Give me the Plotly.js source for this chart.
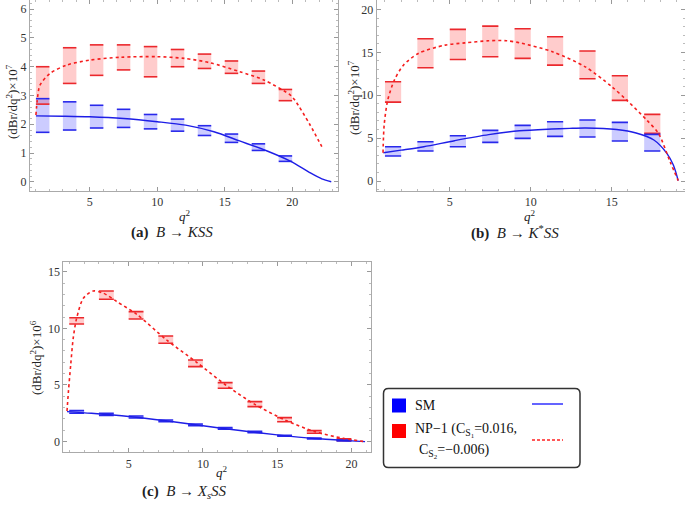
<!DOCTYPE html>
<html>
<head>
<meta charset="utf-8">
<script src="https://cdn.plot.ly/plotly-3.0.1.min.js"></script>
<style>
html, body { margin: 0; padding: 0; background: #fff; }
#plot { width: 685px; height: 511px; }
</style>
</head>
<body>
<div id="plot"></div>
<script>
// bin centres (each bin is one unit wide)
var binsA = [1.5, 3.5, 5.5, 7.5, 9.5, 11.5, 13.5, 15.5, 17.5, 19.5];
var binsB = [1.5, 3.5, 5.5, 7.5, 9.5, 11.5, 13.5, 15.5, 17.5];
var binsC = [1.5, 3.5, 5.5, 7.5, 9.5, 11.5, 13.5, 15.5, 17.5, 19.5];

// (a) B -> K S S   (x10^7)
var smLoA = [1.72, 1.80, 1.87, 1.89, 1.84, 1.76, 1.61, 1.37, 1.09, 0.71];
var smHiA = [2.89, 2.78, 2.66, 2.52, 2.34, 2.18, 1.95, 1.66, 1.32, 0.90];
var npLoA = [2.70, 3.42, 3.70, 3.89, 3.65, 4.00, 3.94, 3.77, 3.42, 2.82];
var npHiA = [4.00, 4.66, 4.76, 4.76, 4.70, 4.60, 4.44, 4.20, 3.85, 3.21];
var qSmA = [1.0, 3.0, 5.0, 7.5, 10.0, 12.1, 14.2, 16.1, 18.1, 19.9, 21.3, 22.2, 22.9];
var ySmA = [2.29, 2.28, 2.26, 2.20, 2.09, 1.97, 1.74, 1.42, 1.08, 0.71, 0.32, 0.10, 0.0];
var qNpA = [1.0, 1.1, 1.3, 2.05, 3.3, 5.0, 7.3, 10.0, 12.0, 13.9, 16.1, 17.9, 19.85, 20.2, 21.3, 22.2];
var yNpA = [2.32, 2.84, 3.36, 3.77, 4.06, 4.23, 4.33, 4.35, 4.29, 4.14, 3.83, 3.54, 3.02, 2.84, 2.0, 1.22];

// (b) B -> K* S S   (x10^7)
var smLoB = [2.91, 3.50, 4.00, 4.50, 4.97, 5.20, 5.13, 4.66, 3.50];
var smHiB = [4.00, 4.58, 5.28, 5.90, 6.49, 6.91, 7.11, 6.83, 5.44];
var npLoB = [9.20, 13.20, 14.17, 14.49, 14.29, 13.51, 11.92, 9.40, 5.55];
var npHiB = [11.57, 16.58, 17.67, 18.06, 17.75, 16.82, 15.15, 12.27, 7.77];
var qSmB = [0.9, 2.0, 3.4, 5.3, 7.4, 9.3, 11.3, 12.4, 13.4, 15.3, 16.5, 17.6, 18.4, 18.8, 19.1];
var ySmB = [3.30, 3.60, 4.00, 4.70, 5.40, 5.85, 6.06, 6.14, 6.18, 6.00, 5.60, 4.78, 3.22, 1.86, 0.05];
var qNpB = [0.88, 0.95, 1.17, 1.58, 2.14, 3.06, 4.71, 5.94, 7.4, 8.5, 9.34, 11.34, 13.37, 15.0, 15.92, 17.16, 17.88, 18.6, 19.1];
var yNpB = [3.3, 6.5, 9.43, 11.76, 13.5, 14.87, 15.84, 16.1, 16.35, 16.35, 16.1, 15.07, 13.3, 11.0, 9.43, 7.1, 5.55, 2.25, 0.05];

// (c) B -> Xs S S   (x10^6)
var smLoC = [2.50, 2.32, 2.09, 1.76, 1.41, 1.09, 0.79, 0.47, 0.24, 0.06];
var smHiC = [2.74, 2.50, 2.26, 1.91, 1.56, 1.24, 0.91, 0.56, 0.32, 0.15];
var npLoC = [10.38, 12.56, 10.82, 8.68, 6.62, 4.71, 3.09, 1.76, 0.74, 0.09];
var npHiC = [10.94, 13.29, 11.47, 9.32, 7.21, 5.21, 3.53, 2.12, 0.97, 0.26];
var qSmC = [0.85, 2.5, 5.0, 7.5, 10.0, 12.5, 15.0, 17.5, 20.0, 20.92];
var ySmC = [2.65, 2.50, 2.22, 1.84, 1.40, 0.98, 0.60, 0.28, 0.07, 0.0];
var qNpC = [0.85, 0.95, 1.1, 1.27, 1.5, 1.95, 2.62, 3.3, 4.2, 5.54, 7.56, 9.58, 11.6, 13.5, 15.53, 17.55, 19.46, 20.92];
var yNpC = [2.7, 4.5, 6.8, 9.15, 10.9, 12.65, 13.3, 13.1, 12.36, 11.24, 8.97, 7.0, 4.94, 3.29, 1.91, 0.88, 0.29, 0.0];

var serif = 'Liberation Serif, Times New Roman, serif';
var W = 685, H = 511;
function px(x) { return x / W; }
function py(y) { return 1 - y / H; }

function edges(bins, vals) {
    var xs = [], ys = [];
    for (var i = 0; i < bins.length; i++) {
        xs.push(bins[i] - 0.5, bins[i] + 0.5, null);
        ys.push(vals[i], vals[i], null);
    }
    return {x: xs, y: ys};
}

function panel(xa, ya, bins, smLo, smHi, npLo, npHi, qSm, ySm, qNp, yNp) {
    var tr = [];
    function box(lo, hi, fill) {
        var h = [];
        for (var i = 0; i < lo.length; i++) h.push(hi[i] - lo[i]);
        return {type: 'bar', x: bins, y: h, base: lo, width: 1, xaxis: xa, yaxis: ya,
                marker: {color: fill, line: {width: 0}}, hoverinfo: 'skip'};
    }
    function edge(vals, col) {
        var e = edges(bins, vals);
        return {type: 'scatter', mode: 'lines', x: e.x, y: e.y, xaxis: xa, yaxis: ya,
                line: {color: col, width: 1.6}, hoverinfo: 'skip'};
    }
    tr.push(box(npLo, npHi, 'rgba(255,40,40,0.24)'));
    tr.push(box(smLo, smHi, 'rgba(40,40,255,0.24)'));
    tr.push(edge(npLo, 'rgb(235,40,45)'), edge(npHi, 'rgb(235,40,45)'));
    tr.push(edge(smLo, 'rgb(40,40,235)'), edge(smHi, 'rgb(40,40,235)'));
    tr.push({type: 'scatter', mode: 'lines', x: qSm, y: ySm, xaxis: xa, yaxis: ya,
             line: {color: 'rgb(30,30,230)', width: 1.4, shape: 'spline', smoothing: 0.8}});
    tr.push({type: 'scatter', mode: 'lines', x: qNp, y: yNp, xaxis: xa, yaxis: ya,
             line: {color: 'rgb(245,30,30)', width: 1.6, dash: 'dot', shape: 'spline', smoothing: 0.8}});
    return tr;
}

var data = [].concat(
    panel('x', 'y', binsA, smLoA, smHiA, npLoA, npHiA, qSmA, ySmA, qNpA, yNpA),
    panel('x2', 'y2', binsB, smLoB, smHiB, npLoB, npHiB, qSmB, ySmB, qNpB, yNpB),
    panel('x3', 'y3', binsC, smLoC, smHiC, npLoC, npHiC, qSmC, ySmC, qNpC, yNpC)
);

function axis(domain, range, dtick, minor, anchor) {
    return {
        domain: domain, range: range, dtick: dtick, tick0: 0, anchor: anchor,
        ticks: 'inside', ticklen: 4, tickcolor: '#999', tickwidth: 1,
        minor: {ticks: 'inside', ticklen: 2, dtick: minor, tick0: 0, tickcolor: '#bbb'},
        showline: true, linecolor: '#aaa', linewidth: 1, mirror: 'ticks',
        showgrid: false, zeroline: false, fixedrange: true,
        tickfont: {family: serif, size: 12, color: '#333'}
    };
}

var ann = [];
function txt(x, y, s, size, angle) {
    ann.push({xref: 'paper', yref: 'paper', x: px(x), y: py(y), text: s, showarrow: false,
              textangle: angle || 0, font: {family: serif, size: size, color: '#222'},
              xanchor: 'center', yanchor: 'middle'});
}
var yt7 = '(dBr/dq<sup>2</sup>)×10<sup>7</sup>';
txt(12, 102, yt7, 13, -90);
txt(185, 216, '<i>q</i><sup>2</sup>', 13);
txt(172, 233, '<b>(a)</b>  <i>B</i> → <i>KSS</i>', 15);
txt(354, 98, yt7, 13, -90);
txt(530, 216, '<i>q</i><sup>2</sup>', 13);
txt(515, 233, '<b>(b)</b>  <i>B</i> → <i>K</i><sup>*</sup><i>SS</i>', 15);
txt(36, 358, '(dBr/dq<sup>2</sup>)×10<sup>6</sup>', 13, -90);
txt(222, 472, '<i>q</i><sup>2</sup>', 13);
txt(184, 492, '<b>(c)</b>  <i>B</i> → <i>X<sub>s</sub>SS</i>', 15);

// legend box
var lx0 = 383.5, lx1 = 580, ly0 = 388.5, ly1 = 467.5, r = 5;
function P(x, y) { return px(x) + ',' + py(y); }
var boxPath = 'M' + P(lx0 + r, ly0) + ' L' + P(lx1 - r, ly0) + ' Q' + P(lx1, ly0) + ' ' + P(lx1, ly0 + r) +
    ' L' + P(lx1, ly1 - r) + ' Q' + P(lx1, ly1) + ' ' + P(lx1 - r, ly1) +
    ' L' + P(lx0 + r, ly1) + ' Q' + P(lx0, ly1) + ' ' + P(lx0, ly1 - r) +
    ' L' + P(lx0, ly0 + r) + ' Q' + P(lx0, ly0) + ' ' + P(lx0 + r, ly0) + ' Z';
var shapes = [
    {type: 'path', xref: 'paper', yref: 'paper', path: boxPath, line: {color: '#333', width: 1.5}, fillcolor: '#fff'},
    {type: 'rect', xref: 'paper', yref: 'paper', x0: px(392), x1: px(406), y0: py(398.5), y1: py(412.5),
     fillcolor: '#0000ff', line: {width: 0}},
    {type: 'rect', xref: 'paper', yref: 'paper', x0: px(392), x1: px(406), y0: py(424), y1: py(438),
     fillcolor: '#ff0000', line: {width: 0}},
    {type: 'line', xref: 'paper', yref: 'paper', x0: px(532), x1: px(563), y0: py(404), y1: py(404),
     line: {color: '#1010ff', width: 1.3}},
    {type: 'line', xref: 'paper', yref: 'paper', x0: px(532), x1: px(563), y0: py(440), y1: py(440),
     line: {color: '#ff2020', width: 1.3, dash: '3px,2px'}}
];
function ltxt(x, y, s) {
    ann.push({xref: 'paper', yref: 'paper', x: px(x), y: py(y), text: s, showarrow: false,
              font: {family: serif, size: 14, color: '#111'}, xanchor: 'left', yanchor: 'middle'});
}
ltxt(413, 405, 'SM');
ltxt(413, 430, 'NP−1 (C<sub>S<sub>1</sub></sub>=0.016,');
ltxt(417, 451, 'C<sub>S<sub>2</sub></sub>=−0.006)');

var layout = {
    width: W, height: H,
    margin: {l: 0, r: 0, t: 0, b: 0},
    paper_bgcolor: '#fff', plot_bgcolor: '#fff',
    showlegend: false, barmode: 'overlay',
    xaxis: axis([px(30), px(338)], [0.56, 23.4], 5, 1, 'y'),
    yaxis: axis([py(191), 1], [-0.32, 6.32], 1, 0.2, 'x'),
    xaxis2: axis([px(376.7), 1], [0.49, 19.52], 5, 1, 'y2'),
    yaxis2: axis([py(190.7), 1], [-1.13, 21.1], 5, 1, 'x2'),
    xaxis3: axis([px(63.3), px(370.7)], [0.6, 21.3], 5, 1, 'y3'),
    yaxis3: axis([py(452.3), py(261.7)], [-0.94, 15.88], 5, 1, 'x3'),
    annotations: ann,
    shapes: shapes
};

Plotly.newPlot('plot', data, layout, {displayModeBar: false, staticPlot: true});
</script>
</body>
</html>
